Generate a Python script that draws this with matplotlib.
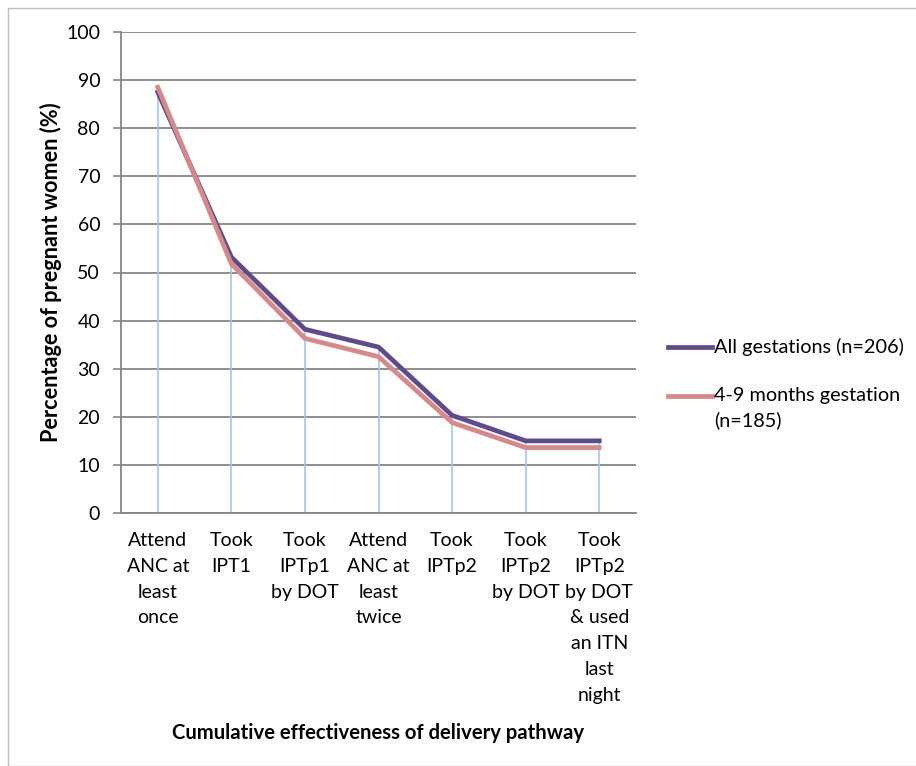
import matplotlib
matplotlib.use("Agg")
import matplotlib.pyplot as plt
from matplotlib.lines import Line2D
from matplotlib.patches import Rectangle

plt.rcParams['font.family'] = ['Lato', 'DejaVu Sans']

categories = ["Attend\nANC at\nleast\nonce", "Took\nIPT1", "Took\nIPTp1\nby DOT",
              "Attend\nANC at\nleast\ntwice", "Took\nIPTp2", "Took\nIPTp2\nby DOT",
              "Took\nIPTp2\nby DOT\n& used\nan ITN\nlast\nnight"]
all_gest = [87.5, 53.2, 38.2, 34.5, 20.3, 15.0, 15.0]
months_4_9 = [88.5, 51.8, 36.3, 32.5, 18.8, 13.6, 13.6]
series_labels = ["All gestations (n=206)", "4-9 months gestation\n(n=185)"]

W, H = 916, 766
fig = plt.figure(figsize=(W / 100, H / 100), dpi=100)
ax = fig.add_axes([121 / W, 1 - 513 / H, (636 - 121) / W, (513 - 32) / H])

x = list(range(len(categories)))
purple = "#5f4b8b"
pink = "#d4898a"
drop = "#a8c3ea"

tops = [max(a, b) for a, b in zip(all_gest, months_4_9)]
ax.vlines(x, 0, tops, colors=drop, linewidth=1.2, zorder=2)

l1, = ax.plot(x, all_gest, color=purple, linewidth=3.4, zorder=3, solid_joinstyle='miter')
l2, = ax.plot(x, months_4_9, color=pink, linewidth=3.4, zorder=4, solid_joinstyle='miter')

ax.set_xlim(-0.5, len(categories) - 0.5)
ax.set_ylim(0, 100)
ax.set_yticks(range(0, 101, 10))
ax.set_xticks(x)
ax.set_xticklabels(categories, fontsize=14, linespacing=1.62, va='top')
ax.tick_params(axis='x', length=0, pad=14)
ax.tick_params(axis='y', length=6, width=1.2, color="#868686", labelsize=14, pad=9)

ax.grid(axis='y', color="#868686", linewidth=1.3, zorder=1)
ax.set_axisbelow(True)
for s in ['top', 'right']:
    ax.spines[s].set_visible(False)
for s in ['left', 'bottom']:
    ax.spines[s].set_color("#868686")
    ax.spines[s].set_linewidth(1.3)

ax.set_ylabel("Percentage of pregnant women (%)", fontsize=15.6, fontweight='bold')
ax.yaxis.set_label_coords((62 - 121) / 515, 0.5)
fig.text((174 + 583) / 2 / W, 1 - 733 / H, "Cumulative effectiveness of delivery pathway",
         fontsize=14.6, fontweight='bold', ha='center', va='center')

# legend drawn manually to keep handle aligned with first text line
leg_items = [(347, l1), (396, l2)]
for (yc, line), lab in zip(leg_items, series_labels):
    fy = 1 - yc / H
    fig.lines.append(Line2D([668 / W, 712 / W], [fy, fy], transform=fig.transFigure,
                            color=line.get_color(), linewidth=3.4))
    fig.text(714 / W, fy + 9 / H, lab, fontsize=14.3, ha='left', va='top',
             linespacing=1.5)

fig.patches.append(Rectangle((8 / W, 0), 1, 1 - 8 / H, transform=fig.transFigure,
                             fill=False, edgecolor="#bfbfbf", linewidth=1.0))

fig.savefig("out.png", dpi=100, facecolor='white')
